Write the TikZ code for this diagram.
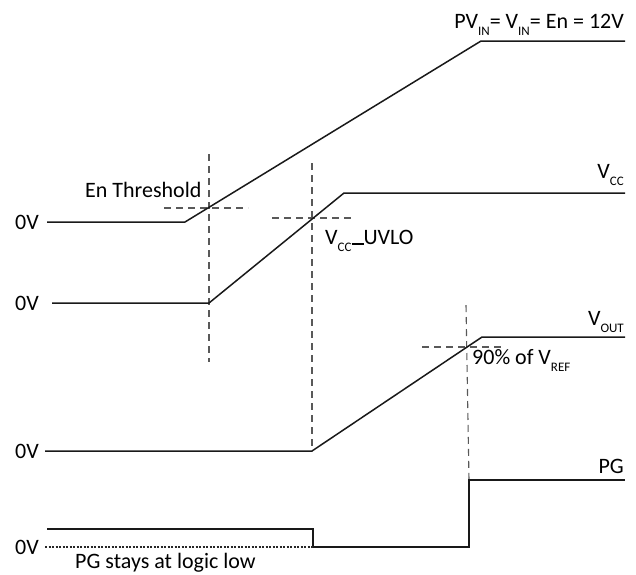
\documentclass[tikz,border=0pt]{standalone}
\usepackage{fontspec}
\setmainfont{Carlito}
\newcommand{\lowtxt}[1]{\raisebox{-0.32em}{\fontsize{13}{14}\selectfont #1}}
\begin{document}
\begin{tikzpicture}[x=1pt,y=-1pt,
  wave/.style={line width=1.5pt,black!90,line join=miter},
  guide/.style={line width=1.1pt,black!65,dash pattern=on 7pt off 5pt},
  dotline/.style={line width=1.3pt,black!85,dash pattern=on 2pt off 1.5pt},
  lbl/.style={inner sep=0pt,font=\fontsize{22}{26}\selectfont}]
\useasboundingbox (0,0) rectangle (636,574);
% guides
\draw[guide] (164,208) -- (248,208);
\draw[guide] (209,154) -- (209,362);
\draw[guide] (272,218) -- (354,218);
\draw[guide] (312,163) -- (312,451);
\draw[guide] (422,347) -- (504,347);
\draw[guide] (466,305) -- (469,480);
% waveforms
\coordinate (a0) at (47,222); \coordinate (a1) at (185,222);
\coordinate (a2) at (481,41); \coordinate (a3) at (625,41);
\draw[wave] (a0) -- (a1) -- (a2) -- (a3);
\coordinate (b0) at (52,303); \coordinate (b1) at (209,303);
\coordinate (b2) at (344,193); \coordinate (b3) at (625,193);
\draw[wave] (b0) -- (b1) -- (b2) -- (b3);
\coordinate (c0) at (45,451); \coordinate (c1) at (312,451);
\coordinate (c2) at (482,337); \coordinate (c3) at (625,337);
\draw[wave] (c0) -- (c1) -- (c2) -- (c3);
\coordinate (d0) at (47,529); \coordinate (d1) at (313,529);
\coordinate (d2) at (313,547); \coordinate (d3) at (469,547);
\coordinate (d4) at (469,480); \coordinate (d5) at (625,480);
\draw[wave] (d0) -- (d1) -- (d2) -- (d3) -- (d4) -- (d5);
\coordinate (e0) at (45,547);
\draw[dotline] (e0) -- (d2);
% labels
\node[lbl,anchor=base east] (lpv) at (624,28) {PV\lowtxt{IN}= V\lowtxt{IN}= En = 12V};
\node[lbl,anchor=base east] (lvcc) at (624,178) {V\lowtxt{CC}};
\node[lbl,anchor=base east] (lvout) at (624,325) {V\lowtxt{OUT}};
\node[lbl,anchor=base east] (lpg) at (624,473) {PG};
\node[lbl,anchor=base west] (len) at (85,197) {En Threshold};
\node[lbl,anchor=base west] (luvlo) at (325,244) {V\lowtxt{CC}\rule[-0.5pt]{12pt}{1.4pt}UVLO};
\node[lbl,anchor=base west] (l90) at (472,364) {90\% of V\lowtxt{REF}};
\node[lbl,anchor=base west] (z1) at (15,229) {0V};
\node[lbl,anchor=base west] (z2) at (15,310) {0V};
\node[lbl,anchor=base west] (z3) at (15,458) {0V};
\node[lbl,anchor=base west] (z4) at (15,554) {0V};
\node[lbl,anchor=base west] (lstay) at (75,568) {PG stays at logic low};
\end{tikzpicture}
\end{document}
